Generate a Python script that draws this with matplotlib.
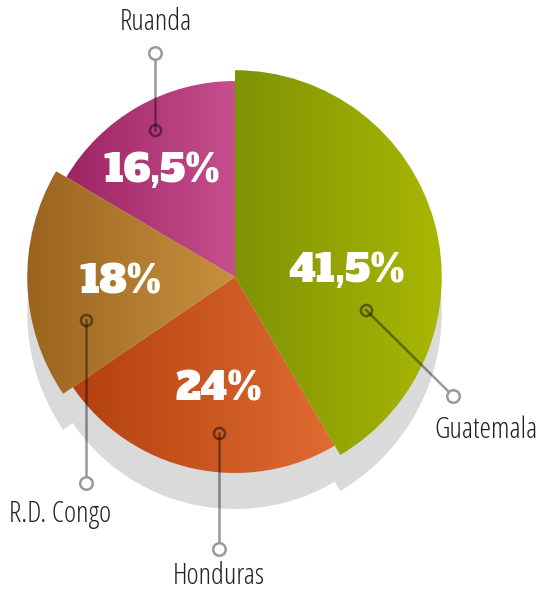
import numpy as np
import matplotlib.pyplot as plt
from matplotlib.colors import LinearSegmentedColormap

# data (clockwise from 12 o'clock)
countries = ['Guatemala', 'Honduras', 'R.D. Congo', 'Ruanda']
shares = [41.5, 24, 18, 16.5]
pct_labels = ['41,5%', '24%', '18%', '16,5%']

# gradient colours, left -> right
grad = [('#7f9205', '#aab803'),
        ('#b3400f', '#e06c32'),
        ('#9a6420', '#c8913f'),
        ('#9c2463', '#c84f8e')]
scale = [1.055, 1.0, 1.06, 1.0]   # some slices stick out
layer = [5, 2, 4, 3]              # drawing order of the slices

W, H = 540, 590
fig = plt.figure(figsize=(W / 100, H / 100), dpi=100)
ax = fig.add_axes([0, 0, 1, 1])

cx, cy = 235, H - 277
R = 196

# shadow
sh, _ = ax.pie(shares, startangle=90, counterclock=False, radius=R,
               center=(cx, cy - 36), colors=['#dadada'] * 4,
               wedgeprops=dict(linewidth=0), frame=True)
for w, s in zip(sh, scale):
    w.set_radius(R * s)
    w.set_zorder(1)

wedges, _ = ax.pie(shares, startangle=90, counterclock=False, radius=R,
                   center=(cx, cy), colors=['none'] * 4,
                   wedgeprops=dict(linewidth=0), frame=True)
ax.set_xlim(0, W)
ax.set_ylim(0, H)
ax.set_aspect('equal')
ax.axis('off')

g = np.linspace(0, 1, 256).reshape(1, -1)
for i, (w, s) in enumerate(zip(wedges, scale)):
    w.set_radius(R * s)
    w.set_zorder(layer[i])
    verts = w.get_path().vertices
    x0, x1 = verts[:, 0].min(), verts[:, 0].max()
    y0, y1 = verts[:, 1].min(), verts[:, 1].max()
    cmap = LinearSegmentedColormap.from_list('g%d' % i, grad[i])
    im = ax.imshow(g, cmap=cmap, extent=(x0, x1, y0, y1), aspect='auto',
                   zorder=layer[i], interpolation='bilinear')
    im.set_clip_path(w)
ax.set_xlim(0, W)
ax.set_ylim(0, H)

# percentage labels
pct_pos = [(347, 272), (219, 390), (120, 283), (162, 171)]
for t, (x, y) in zip(pct_labels, pct_pos):
    ax.text(x, H - y, t, color='white', fontsize=28,
            family=['Alfa Slab One', 'DejaVu Sans'],
            ha='center', va='center', zorder=8)

# leader lines: inner point, outer point, label position
leaders = [((366, 310), (453, 396), (486, 430)),
           ((219, 433), (219, 549), (219, 576)),
           ((86, 320), (86, 483), (60, 514)),
           ((155, 130), (155, 53), (156, 22))]
for name, (p_in, p_out, p_txt) in zip(countries, leaders):
    ax.plot([p_in[0], p_out[0]], [H - p_in[1], H - p_out[1]],
            color='black', alpha=0.4, lw=1.8, zorder=9)
    ax.plot(p_in[0], H - p_in[1], 'o', ms=8, mfc='none', mec='black',
            mew=1.8, alpha=0.45, zorder=9)
    ax.plot(p_out[0], H - p_out[1], 'o', ms=9, mfc='white', mec='#9a9a9a',
            mew=1.8, zorder=10)
    ax.text(p_txt[0], H - p_txt[1], name, fontsize=21, color='#222222',
            family=['Open Sans', 'DejaVu Sans'], fontstretch='condensed',
            fontweight='light', ha='center', va='center', zorder=10)

fig.savefig('out.png', dpi=100)
